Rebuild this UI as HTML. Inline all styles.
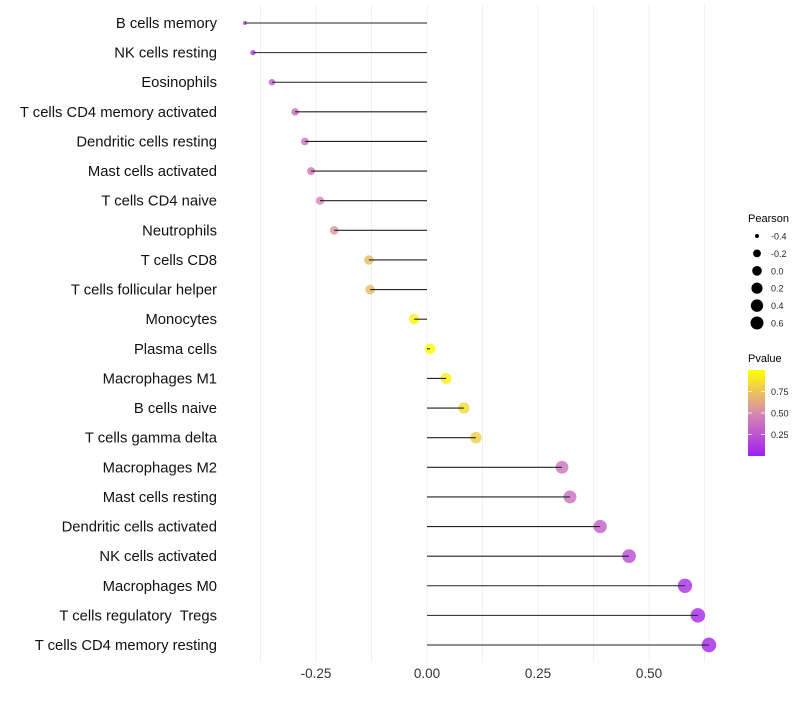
<!DOCTYPE html>
<html><head><meta charset="utf-8"><style>
body{margin:0;background:#fff;font-family:"Liberation Sans",sans-serif;}
text{white-space:pre;}
</style></head><body>
<svg id="chart" width="800" height="700" xmlns="http://www.w3.org/2000/svg">
<defs><linearGradient id="pg" x1="0" y1="1" x2="0" y2="0">
<stop offset="0" stop-color="#a020f0"/><stop offset="0.5" stop-color="#d88ab0"/><stop offset="1" stop-color="#ffff00"/></linearGradient></defs>
<g id="grid"></g><g id="marks"></g><g id="ylabels"></g><g id="xlabels"></g>
<g id="sizeLeg">
<text x="748" y="222" font-size="11">Pearson</text>
</g>
<g>
<text x="748" y="362" font-size="11">Pvalue</text>
<rect x="748" y="370" width="17" height="86" fill="url(#pg)"/>
<g id="cbticks"></g>
</g>
</svg>
<script>
const categories=["B cells memory","NK cells resting","Eosinophils","T cells CD4 memory activated","Dendritic cells resting","Mast cells activated","T cells CD4 naive","Neutrophils","T cells CD8","T cells follicular helper","Monocytes","Plasma cells","Macrophages M1","B cells naive","T cells gamma delta","Macrophages M2","Mast cells resting","Dendritic cells activated","NK cells activated","Macrophages M0","T cells regulatory  Tregs","T cells CD4 memory resting"];
const pearson=[-0.41,-0.392,-0.349,-0.297,-0.275,-0.261,-0.241,-0.209,-0.131,-0.128,-0.029,0.007,0.043,0.083,0.11,0.304,0.322,0.39,0.455,0.581,0.61,0.635];
const pvalue=[0.15,0.18,0.3,0.37,0.4,0.42,0.48,0.55,0.72,0.72,0.95,0.99,0.93,0.85,0.8,0.4,0.38,0.3,0.22,0.08,0.05,0.04];
const xTicks=[-0.25,0,0.25,0.5];
const xTickLabels=["-0.25","0.00","0.25","0.50"];
const gridVals=[-0.375,-0.25,-0.125,0,0.125,0.25,0.375,0.5,0.625];
const sizeLegVals=[-0.4,-0.2,0.0,0.2,0.4,0.6];
const sizeLegLabels=["-0.4","-0.2","0.0","0.2","0.4","0.6"];
const cbVals=[0.25,0.5,0.75];
const cbLabels=["0.25","0.50","0.75"];
const NS="http://www.w3.org/2000/svg";
const X=v=>427+v*444;
const Y=i=>23+i*(622/21);
const R=v=>2+Math.sqrt(Math.max(0,v+0.41))*5.2;
function col(p){
 const s=[[0,[160,32,240]],[0.5,[216,138,176]],[1,[255,255,0]]];
 let a=s[0],b=s[1]; if(p>0.5){a=s[1];b=s[2];}
 const t=(p-a[0])/(b[0]-a[0]);
 return "rgb("+a[1].map((c,k)=>Math.round(c+(b[1][k]-c)*t)).join(",")+")";
}
function mk(tag,at,parent){const e=document.createElementNS(NS,tag);for(const k in at)e.setAttribute(k,at[k]);parent.appendChild(e);return e;}
const grid=document.getElementById('grid'),marks=document.getElementById('marks'),yl=document.getElementById('ylabels'),xl=document.getElementById('xlabels');
gridVals.forEach(v=>{const l=mk('line',{x1:X(v),x2:X(v),y1:5,y2:662,stroke:'#f0f0f0','stroke-width':1},grid);

});
categories.forEach((c,i)=>{
 const y=Y(i);
 const ci=mk('circle',{cx:X(pearson[i]),cy:y,r:R(pearson[i]),fill:col(pvalue[i]),'fill-opacity':0.82},marks);
 
 
 const ln=mk('line',{x1:X(0),x2:X(pearson[i]),y1:y,y2:y,stroke:'#222','stroke-width':1.1},marks);
 
 
 const t=mk('text',{x:217,y:y+5,'text-anchor':'end','font-size':14.8,fill:'#111'},yl);
 t.textContent=c;
 
 
});
xTicks.forEach((v,i)=>{const t=mk('text',{x:X(v),y:678,'text-anchor':'middle','font-size':13.5,fill:'#333'},xl);t.textContent=xTickLabels[i];

});
const sl=document.getElementById('sizeLeg');
sizeLegVals.forEach((v,i)=>{const y=236+i*17.4;
 const c=mk('circle',{cx:757,cy:y,r:Math.min(R(v)-0.5,6.5),fill:'#000'},sl);
 
 
 const t=mk('text',{x:771,y:y+3.5,'font-size':9,fill:'#222'},sl);t.textContent=sizeLegLabels[i];
 
 });
const cb=document.getElementById('cbticks');
cbVals.forEach((v,i)=>{const y=456-v*86;
 mk('line',{x1:748,x2:752,y1:y,y2:y,stroke:'#fff','stroke-width':0.8},cb);
 mk('line',{x1:761,x2:765,y1:y,y2:y,stroke:'#fff','stroke-width':0.8},cb);
 const t=mk('text',{x:771,y:y+3.5,'font-size':9,fill:'#222'},cb);t.textContent=cbLabels[i];
 
 });
</script>
</body></html>
